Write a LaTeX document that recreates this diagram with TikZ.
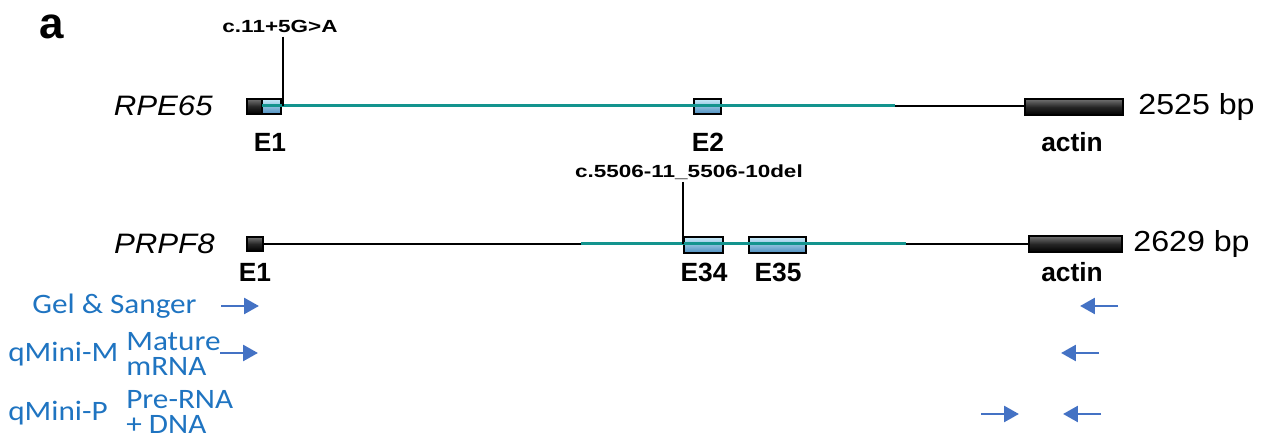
\documentclass[tikz,border=0pt]{standalone}
\usepackage{fontspec}
\setmainfont{Liberation Sans}
\newfontfamily\carlito[FakeStretch=1.11]{Carlito}
\newfontfamily\widesans[FakeStretch=1.11]{Liberation Sans}
\newfontfamily\mutsans[FakeStretch=1.28]{Liberation Sans}
\usetikzlibrary{arrows.meta}
\usetikzlibrary{calc,positioning}

\definecolor{intronteal}{HTML}{13948E}
\definecolor{exontop}{HTML}{C9ECFA}
\definecolor{exonbot}{HTML}{4C8DBE}
\definecolor{primerblue}{HTML}{4472C4}
\definecolor{assayblue}{HTML}{1F74C1}

\tikzset{
  exon/.style={draw=black, line width=0.6pt, top color=exontop, bottom color=exonbot},
  utr/.style={draw=black, line width=0.6pt, top color=black!55, bottom color=black, middle color=black!85},
  intron/.style={line width=1.7pt, intronteal},
  backbone/.style={line width=1.1pt, black},
  exonlbl/.style={font=\fontsize{15}{17}\selectfont\bfseries, inner sep=0pt},
  genelbl/.style={font=\widesans\fontsize{16}{18}\selectfont\itshape, inner sep=0pt, anchor=east},
  sizelbl/.style={font=\widesans\fontsize{16.5}{18}\selectfont, inner sep=0pt, anchor=west},
  mutlbl/.style={font=\mutsans\fontsize{10}{12}\selectfont\bfseries, inner sep=0pt},
  assay/.style={font=\carlito\fontsize{16}{14.5}\selectfont, text=assayblue, inner sep=0pt, anchor=west, align=left},
  primer/.style={-{Triangle[length=8.5pt, width=9pt]}, primerblue, line width=1.7pt}
}

\begin{document}
\begin{tikzpicture}[x=0.02cm, y=-0.02cm]
    \useasboundingbox (0,0) rectangle (1262,448);
    \node[font=\fontsize{25}{27}\selectfont\bfseries, inner sep=0pt] (panel) at (52,27) {a};

    % RPE65 minigene
    \node[genelbl] (rpe) at (213,106) {RPE65};
    \draw[utr] (247,99) rectangle (262,114);
    \draw[exon] (262,99) rectangle (281,114);
    \draw[exon] (694,99) rectangle (721,114);
    \draw[backbone] (895,106) -- (1025,106);
    \draw[utr] (1025,99) rectangle (1123,115);
    \draw[intron] (262,106) -- (895,106);
    \node[sizelbl] (rpebp) at (1138,107) {2525 bp};
    \node[exonlbl] (rE1) at (270,142) {E1};
    \node[exonlbl] (rE2) at (708,142) {E2};
    \node[exonlbl] (ract) at (1072,142) {actin};
    \node[mutlbl] (mutA) at (280,26) {c.11+5G>A};
    \coordinate (mA) at (283,106);
    \draw[line width=0.6pt] (mutA.south -| mA) ++(0,4) -- (mA);

    % PRPF8 minigene
    \node[genelbl] (prp) at (215,244) {PRPF8};
    \draw[backbone] (263,244) -- (581,244);
    \draw[backbone] (906,244) -- (1029,244);
    \draw[utr] (247,237) rectangle (263,251);
    \draw[exon] (684,237) rectangle (723,253);
    \draw[exon] (749,237) rectangle (806,253);
    \draw[utr] (1029,236) rectangle (1122,252);
    \draw[intron] (581,244) -- (906,244);
    \node[sizelbl] (prpbp) at (1133,244) {2629 bp};
    \node[exonlbl] (pE1) at (255,272) {E1};
    \node[exonlbl] (pE34) at (704,272) {E34};
    \node[exonlbl] (pE35) at (778,272) {E35};
    \node[exonlbl] (pact) at (1072,272) {actin};
    \node[mutlbl] (mutB) at (689,172) {c.5506-11\_5506-10del};
    \coordinate (mB) at (683,244);
    \draw[line width=0.6pt] (mutB.south -| mB) ++(0,2) -- (mB);

    % assays and primers
    \node[assay] (gel) at (32,306) {Gel \& Sanger};
    \node[assay] (qmm) at (8,354) {qMini-M};
    \node[assay] (mat) at (126,354) {Mature\\mRNA};
    \node[assay] (qmp) at (8,413) {qMini-P};
    \node[assay] (pre) at (126,412) {Pre-RNA\\+ DNA};

    \coordinate (gF) at (221,306);
    \coordinate (gR) at (1118,306);
    \coordinate (mF) at (220,353);
    \coordinate (mR) at (1099,353);
    \coordinate (pF) at (981,414);
    \coordinate (pR) at (1101,414);
    \draw[primer] (gF) -- ++(38,0);
    \draw[primer] (gR) -- ++(-38,0);
    \draw[primer] (mF) -- ++(38,0);
    \draw[primer] (mR) -- ++(-38,0);
    \draw[primer] (pF) -- ++(38,0);
    \draw[primer] (pR) -- ++(-38,0);
\end{tikzpicture}
\end{document}
